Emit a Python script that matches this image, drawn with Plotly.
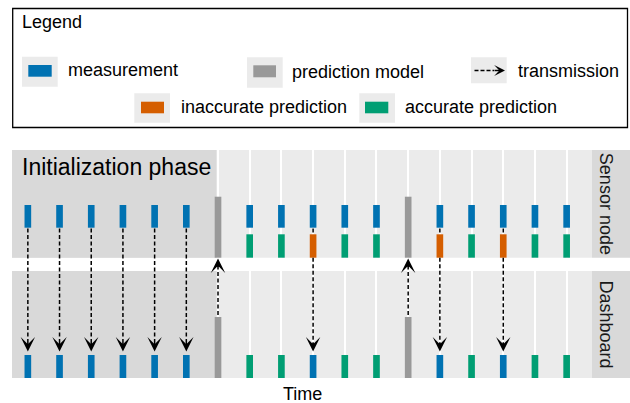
import plotly.graph_objects as go

# ---------------- data ----------------
time = list(range(1, 19))
sensor_events = (["measurement"] * 6 + ["model"] + ["measurement"] * 5 +
                 ["model"] + ["measurement"] * 5)
prediction = [None] * 7 + ["accurate", "accurate", "inaccurate", "accurate", "accurate",
                           None, "inaccurate", "accurate", "inaccurate", "accurate", "accurate"]
dashboard_events = (["measurement"] * 6 + ["model"] +
                    ["accurate", "accurate", "measurement", "accurate", "accurate"] +
                    ["model", "measurement", "accurate", "measurement", "accurate", "accurate"])
transmission_down = [1, 2, 3, 4, 5, 6, 10, 14, 16]
transmission_up = [7, 13]
init_end = 6.95
legend_labels = ["measurement", "prediction model", "transmission",
                 "inaccurate prediction", "accurate prediction"]
facet_labels = ["Sensor node", "Dashboard"]

# ---------------- style / layout constants ----------------
W, H = 630, 403
ML, MR, MT, MB = 12, 38, 150, 25
PW, PH = W - ML - MR, H - MT - MB
COL = {"measurement": "#0072B2", "model": "#999999",
       "inaccurate": "#D55E00", "accurate": "#009E73"}
PANEL_BG = "#EBEBEB"
DARK_BG = "#D9D9D9"
FONT = "Liberation Sans"
BAR_W = 0.21
XR = [0.5, 18.8]
# y units (from bottom of plot area)
TOP_PANEL = (120.3, 228)
BOT_PANEL = (0, 107)
LANE = {  # (base, height)
    "sensor_meas": (150.3, 22.7),
    "sensor_pred": (120.3, 23.4),
    "sensor_model": (120.3, 61.0),
    "dash_meas": (0, 23),
    "dash_model": (0, 61.0),
}
DOWN_START, DOWN_TIP = 149.5, 26.5
UP_START, UP_TIP = 63, 119.5


def px2x(px):
    return (px - ML) / PW


def px2y(py):
    return (H - MB - py) / PH


fig = go.Figure()

# transmission shafts (dashed); skip the part hidden behind a prediction bar
pred_at = dict(zip(time, prediction))
pb, ph = LANE["sensor_pred"]
sx, sy = [], []
for t in transmission_down:
    if pred_at.get(t) is not None:
        sx += [t, t, None, t, t, None]
        sy += [DOWN_START, pb + ph, None, pb, DOWN_TIP + 6, None]
    else:
        sx += [t, t, None]
        sy += [DOWN_START, DOWN_TIP + 6, None]
for t in transmission_up:
    sx += [t, t, None]
    sy += [UP_START, UP_TIP - 6, None]
fig.add_trace(go.Scatter(x=sx, y=sy, mode="lines",
                         line=dict(color="black", width=1.5, dash="4px,2.5px"),
                         showlegend=False, hoverinfo="skip"))


# bars
def add_bars(times, lane, color):
    if not times:
        return
    b, h = LANE[lane]
    fig.add_trace(go.Bar(x=times, y=[h] * len(times), base=[b] * len(times),
                         width=BAR_W, marker=dict(color=color, line=dict(width=0)),
                         showlegend=False, hoverinfo="skip"))


add_bars([t for t, e in zip(time, sensor_events) if e == "measurement"], "sensor_meas", COL["measurement"])
add_bars([t for t, e in zip(time, sensor_events) if e == "model"], "sensor_model", COL["model"])
add_bars([t for t, p in zip(time, prediction) if p == "accurate"], "sensor_pred", COL["accurate"])
add_bars([t for t, p in zip(time, prediction) if p == "inaccurate"], "sensor_pred", COL["inaccurate"])
add_bars([t for t, e in zip(time, dashboard_events) if e == "measurement"], "dash_meas", COL["measurement"])
add_bars([t for t, e in zip(time, dashboard_events) if e == "accurate"], "dash_meas", COL["accurate"])
add_bars([t for t, e in zip(time, dashboard_events) if e == "model"], "dash_model", COL["model"])

annotations = []
for t in transmission_down:
    annotations.append(dict(x=t, y=DOWN_TIP, xref="x", yref="y", text="", showarrow=True,
                            ax=0, ay=-10, arrowhead=3, arrowsize=1.6, arrowwidth=1.5,
                            arrowcolor="black", standoff=0))
for t in transmission_up:
    annotations.append(dict(x=t, y=UP_TIP, xref="x", yref="y", text="", showarrow=True,
                            ax=0, ay=10, arrowhead=3, arrowsize=1.6, arrowwidth=1.5,
                            arrowcolor="black", standoff=0))

shapes = []
# panel backgrounds
for y0, y1 in (TOP_PANEL, BOT_PANEL):
    shapes.append(dict(type="rect", xref="paper", yref="y", x0=0, x1=1, y0=y0, y1=y1,
                       fillcolor=PANEL_BG, line=dict(width=0), layer="below"))
    # initialization phase region
    shapes.append(dict(type="rect", xref="x", yref="y", x0=XR[0], x1=init_end, y0=y0, y1=y1,
                       fillcolor=DARK_BG, line=dict(width=0), layer="between"))
    # strips
    shapes.append(dict(type="rect", xref="paper", yref="y", x0=1, x1=px2x(W), y0=y0, y1=y1,
                       fillcolor=DARK_BG, line=dict(width=0), layer="below"))

for lab, (y0, y1) in zip(facet_labels, (TOP_PANEL, BOT_PANEL)):
    annotations.append(dict(x=px2x(606), y=(y0 + y1) / 2, xref="paper", yref="y", text=lab,
                            showarrow=False, textangle=90, xanchor="center", yanchor="middle",
                            font=dict(family=FONT, size=18, color="#1A1A1A")))

annotations.append(dict(x=px2x(20), y=px2y(167), xref="paper", yref="paper",
                        text="Initialization phase", showarrow=False, xanchor="left",
                        yanchor="middle", font=dict(family=FONT, size=23, color="black")))
annotations.append(dict(x=0.5, y=px2y(394), xref="paper", yref="paper", text="Time",
                        showarrow=False, xanchor="center", yanchor="middle",
                        font=dict(family=FONT, size=18, color="black")))

# ---------------- legend box ----------------
shapes.append(dict(type="rect", xref="paper", yref="paper", x0=px2x(12.7), x1=px2x(627.5),
                   y0=px2y(8.5), y1=px2y(127.5), line=dict(color="black", width=1.3),
                   fillcolor="white", layer="above"))
annotations.append(dict(x=px2x(19.5), y=px2y(22), xref="paper", yref="paper", text="Legend",
                        showarrow=False, xanchor="left", yanchor="middle",
                        font=dict(family=FONT, size=18, color="black")))

legend_items = [
    # (label, key bg box, inner rect or None, text x, text y, color)
    (legend_labels[0], (22, 56.7, 57.7, 86.7), (28.3, 65, 51.7, 76.7), 65.5, 70, COL["measurement"]),
    (legend_labels[1], (247, 57.3, 282.7, 87.7), (253.3, 65.3, 276, 77.3), 290, 71.5, COL["model"]),
    (legend_labels[2], (471, 57.3, 506.7, 83.3), None, 515.5, 70.5, "black"),
    (legend_labels[3], (134.3, 93.3, 170, 122.7), (141, 101.7, 164, 113.3), 178.5, 107, COL["inaccurate"]),
    (legend_labels[4], (359.3, 93.3, 395, 122.7), (365, 101.7, 388.3, 113.3), 403, 107, COL["accurate"]),
]
for lab, bg, inner, tx, ty, c in legend_items:
    shapes.append(dict(type="rect", xref="paper", yref="paper", x0=px2x(bg[0]), x1=px2x(bg[2]),
                       y0=px2y(bg[1]), y1=px2y(bg[3]), fillcolor=PANEL_BG, line=dict(width=0),
                       layer="above"))
    if inner is not None:
        shapes.append(dict(type="rect", xref="paper", yref="paper", x0=px2x(inner[0]),
                           x1=px2x(inner[2]), y0=px2y(inner[1]), y1=px2y(inner[3]),
                           fillcolor=c, line=dict(width=0), layer="above"))
    else:
        shapes.append(dict(type="line", xref="paper", yref="paper", x0=px2x(474.5), x1=px2x(494),
                           y0=px2y(70.5), y1=px2y(70.5),
                           line=dict(color="black", width=1.5, dash="4px,2px"), layer="above"))
        annotations.append(dict(x=px2x(505), y=px2y(70.5), xref="paper", yref="paper", text="",
                                showarrow=True, ax=-12, ay=0, arrowhead=3, arrowsize=1.3,
                                arrowwidth=1.4, arrowcolor="black", standoff=0))
    annotations.append(dict(x=px2x(tx), y=px2y(ty), xref="paper", yref="paper", text=lab,
                            showarrow=False, xanchor="left", yanchor="middle",
                            font=dict(family=FONT, size=18, color="black")))

fig.update_layout(
    width=W, height=H, margin=dict(l=ML, r=MR, t=MT, b=MB, pad=0),
    paper_bgcolor="white", plot_bgcolor="white", barmode="overlay",
    shapes=shapes, annotations=annotations, showlegend=False,
    font=dict(family=FONT, size=18, color="black"),
    xaxis=dict(range=XR, tickmode="linear", tick0=1, dtick=1, showticklabels=False, ticks="",
               showgrid=True, gridcolor="white", gridwidth=1.6, zeroline=False, showline=False,
               fixedrange=True),
    yaxis=dict(range=[0, PH], showgrid=False, showticklabels=False, ticks="", zeroline=False,
               showline=False, fixedrange=True),
)

fig.write_html("out.html", config={"displayModeBar": False},
               post_script="document.body.style.margin='0';document.body.style.overflow='hidden';")
